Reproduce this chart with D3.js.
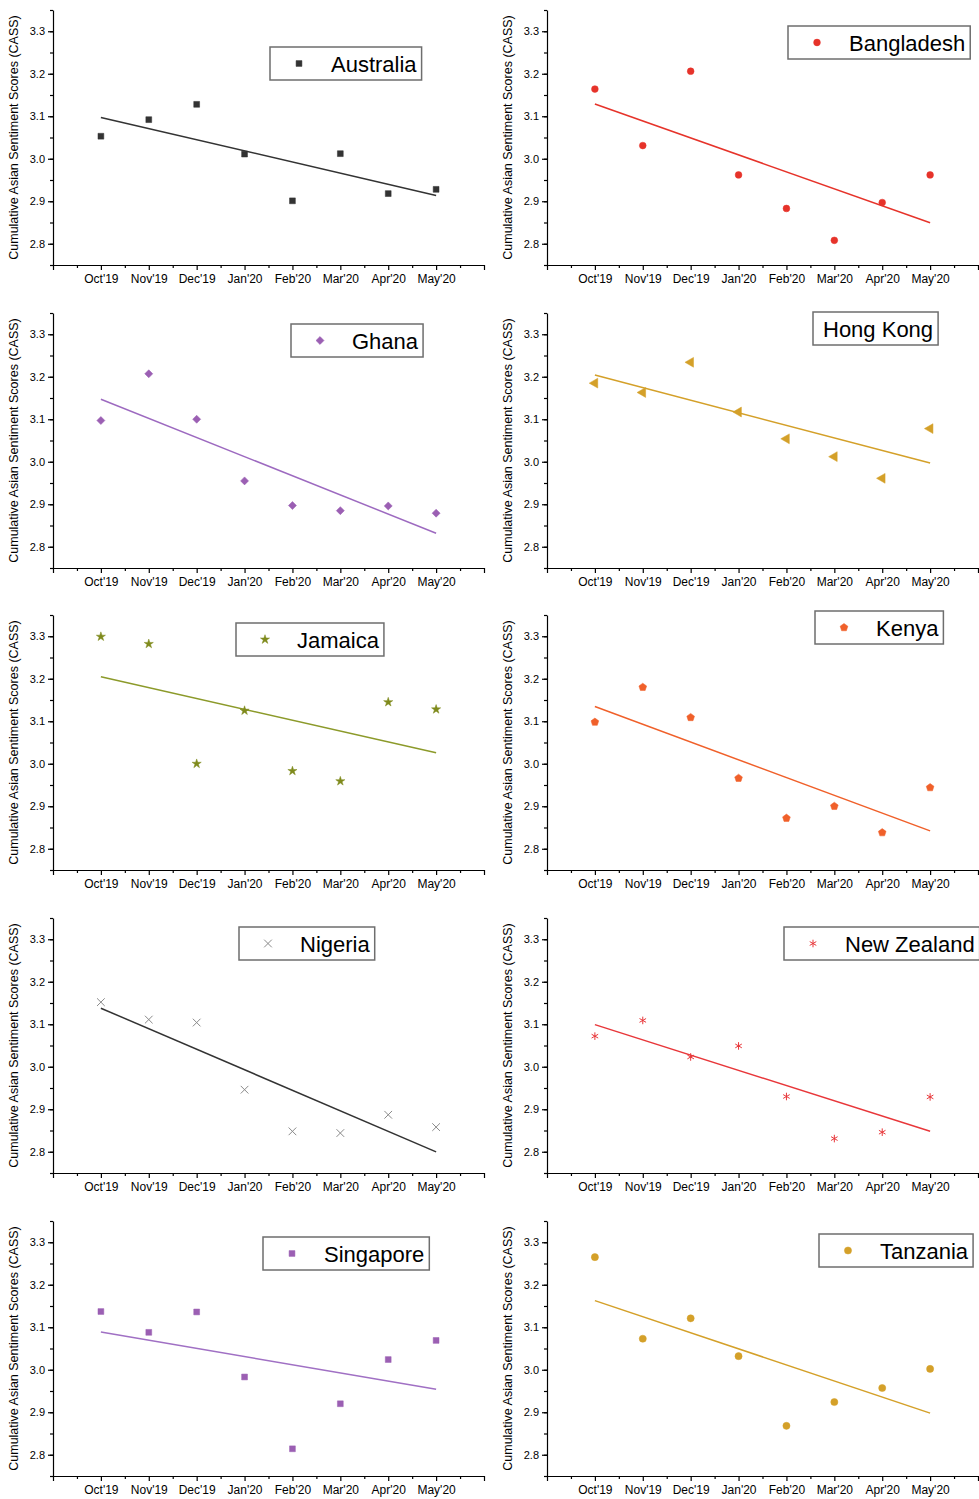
<!DOCTYPE html>
<html>
<head>
<meta charset="utf-8">
<script src="https://cdn.jsdelivr.net/npm/d3@7"></script>
<style>
  body { margin: 0; background: #fff; }
  svg { display: block; font-family: Arial, "Liberation Sans", sans-serif; }
  .axis path, .axis line { stroke: #000; stroke-width: 1.2; }
  .axis text { fill: #000; }
</style>
</head>
<body>
<div id="chart"></div>
<script>
// Monate (x-Achse)
const months = ["Oct'19", "Nov'19", "Dec'19", "Jan'20", "Feb'20", "Mar'20", "Apr'20", "May'20"];
const yTicks = [2.8, 2.9, 3.0, 3.1, 3.2, 3.3];

const countries = ["Australia", "Bangladesh", "Ghana", "Hong Kong", "Jamaica",
                   "Kenya", "Nigeria", "New Zealand", "Singapore", "Tanzania"];

// CASS-Werte pro Land
const australia  = [3.053, 3.092, 3.128, 3.011, 2.901, 3.012, 2.918, 2.928];
const bangladesh = [3.164, 3.031, 3.206, 2.962, 2.883, 2.808, 2.897, 2.962];
const ghana      = [3.097, 3.207, 3.100, 2.955, 2.897, 2.885, 2.896, 2.879];
const hongKong   = [3.185, 3.163, 3.234, 3.117, 3.054, 3.012, 2.961, 3.078];
const jamaica    = [3.299, 3.282, 3.000, 3.125, 2.983, 2.959, 3.145, 3.128];
const kenya      = [3.098, 3.180, 3.109, 2.966, 2.872, 2.900, 2.838, 2.944];
const nigeria    = [3.152, 3.111, 3.104, 2.946, 2.848, 2.844, 2.887, 2.858];
const newZealand = [3.072, 3.109, 3.023, 3.049, 2.930, 2.831, 2.846, 2.929];
const singapore  = [3.137, 3.088, 3.136, 2.983, 2.814, 2.920, 3.024, 3.069];
const tanzania   = [3.265, 3.073, 3.121, 3.032, 2.868, 2.924, 2.957, 3.002];

const seriesValues = [australia, bangladesh, ghana, hongKong, jamaica,
                      kenya, nigeria, newZealand, singapore, tanzania];

// Fünfeck als eigenes Symbol
const symbolPentagon = {
  draw(ctx, size) {
    const r = Math.sqrt(size) * 0.64;
    for (let i = 0; i < 5; i++) {
      const a = -Math.PI / 2 + i * 2 * Math.PI / 5;
      if (i === 0) ctx.moveTo(r * Math.cos(a), r * Math.sin(a));
      else ctx.lineTo(r * Math.cos(a), r * Math.sin(a));
    }
    ctx.closePath();
  }
};
const symTimes = d3.symbolTimes || { draw(ctx, size) {
  const r = Math.sqrt(size) * 0.5;
  ctx.moveTo(-r, -r); ctx.lineTo(r, r); ctx.moveTo(-r, r); ctx.lineTo(r, -r);
}};
const symAsterisk = d3.symbolAsterisk || { draw(ctx, size) {
  const r = Math.sqrt(size) * 0.6, t = r / 2, u = t * Math.sqrt(3);
  ctx.moveTo(0, r); ctx.lineTo(0, -r);
  ctx.moveTo(-u, -t); ctx.lineTo(u, t);
  ctx.moveTo(-u, t); ctx.lineTo(u, -t);
}};

// Darstellung pro Land (Raute = gedrehtes Quadrat)
const styles = [
  { color: "#333333", line: "#333333", sym: d3.symbolSquare, size: 34, fill: true },
  { color: "#e6332a", line: "#e6332a", sym: d3.symbolCircle, size: 36, fill: true },
  { color: "#9b5fb3", line: "#9d6ac0", sym: d3.symbolSquare, size: 32, fill: true, rot: 45 },
  { color: "#d4a029", line: "#d4a029", sym: d3.symbolTriangle, size: 42, fill: true, rot: -90 },
  { color: "#7f8a1c", line: "#8c9a2a", sym: d3.symbolStar, size: 26, fill: true },
  { color: "#f0602a", line: "#f0602a", sym: symbolPentagon, size: 40, fill: true },
  { color: "#8a8a8a", line: "#333333", sym: symTimes, size: 40, fill: false },
  { color: "#e8373a", line: "#e8373a", sym: symAsterisk, size: 40, fill: false },
  { color: "#9b5fb3", line: "#a070c4", sym: d3.symbolSquare, size: 34, fill: true },
  { color: "#d4a029", line: "#d4a029", sym: d3.symbolCircle, size: 40, fill: true }
];

// Legendenposition relativ zum Panel (links, oben)
const legendPos = [[217, 37], [241, 16], [238, 11], [266, -1], [183, 8],
                   [268, -4], [186, 9], [237, 9], [210, 16], [272, 13]];

const W = 979, H = 1499;
const colX = [53, 547];
const rowY = [10, 313, 615, 918, 1221];
const pw = 431, ph = 255;

const svg = d3.select("#chart").append("svg")
  .attr("width", W).attr("height", H);

const x = d3.scaleLinear().domain([-1, 8]).range([0, pw]);
const y = d3.scaleLinear().domain([2.75, 3.35]).range([ph, 0]);

// lineare Regression
function fit(vals) {
  const n = vals.length;
  const mx = d3.mean(vals, (v, i) => i), my = d3.mean(vals);
  let sxy = 0, sxx = 0;
  vals.forEach((v, i) => { sxy += (i - mx) * (v - my); sxx += (i - mx) * (i - mx); });
  const b = sxy / sxx, a = my - b * mx;
  return [[0, a], [n - 1, a + b * (n - 1)]];
}

countries.forEach((name, k) => {
  const vals = seriesValues[k];
  const st = styles[k];
  const g = svg.append("g")
    .attr("transform", `translate(${colX[k % 2]},${rowY[Math.floor(k / 2)]})`);

  // y-Achse
  const yMinor = d3.range(2.75, 3.351, 0.05).map(v => +v.toFixed(2));
  g.append("g").attr("class", "axis")
    .call(d3.axisLeft(y).tickValues(yMinor).tickSize(3).tickFormat(""))
    .call(s => s.select(".domain").remove());
  g.append("g").attr("class", "axis")
    .call(d3.axisLeft(y).tickValues(yTicks).tickSize(5).tickSizeOuter(0).tickPadding(3)
      .tickFormat(d3.format(".1f")))
    .call(s => s.selectAll("text").style("font-size", "11px"));

  // x-Achse
  const xMinor = d3.range(-0.5, 8, 1);
  g.append("g").attr("class", "axis").attr("transform", `translate(0,${ph})`)
    .call(d3.axisBottom(x).tickValues(xMinor).tickSize(3).tickFormat(""))
    .call(s => s.select(".domain").remove());
  g.append("g").attr("class", "axis").attr("transform", `translate(0,${ph})`)
    .call(d3.axisBottom(x).tickValues(d3.range(-1, 9)).tickSize(5).tickSizeOuter(0).tickPadding(4)
      .tickFormat(i => months[i] || ""))
    .call(s => s.selectAll("text").style("font-size", "12px"));

  // y-Titel
  g.append("text")
    .attr("transform", `translate(-35,${ph / 2}) rotate(-90)`)
    .attr("text-anchor", "middle")
    .style("font-size", "12.5px")
    .text("Cumulative Asian Sentiment Scores (CASS)");

  // Regressionsgerade
  g.append("path")
    .datum(fit(vals))
    .attr("fill", "none")
    .attr("stroke", st.line)
    .attr("stroke-width", 1.5)
    .attr("d", d3.line().x(d => x(d[0])).y(d => y(d[1])));

  // Punkte
  const sym = d3.symbol().type(st.sym).size(st.size);
  g.selectAll(".pt").data(vals).enter().append("path")
    .attr("class", "pt")
    .attr("transform", (d, i) => `translate(${x(i)},${y(d)})` + (st.rot ? ` rotate(${st.rot})` : ""))
    .attr("d", sym)
    .attr("fill", st.fill ? st.color : "none")
    .attr("stroke", st.color)
    .attr("stroke-width", st.fill ? 0.5 : 1);

  // Legende
  const [lx, ly] = legendPos[k];
  const lg = g.append("g").attr("transform", `translate(${lx},${ly})`);
  const box = lg.append("rect")
    .attr("height", 33)
    .attr("fill", "#fff")
    .attr("stroke", "#6e6e6e")
    .attr("stroke-width", 1.5);
  const noMarker = name === "Hong Kong";
  const tx = noMarker ? 10 : 61;
  const t = lg.append("text")
    .attr("x", tx).attr("y", 24.5)
    .style("font-size", "22px")
    .attr("fill", "#000")
    .text(name);
  box.attr("width", tx + t.node().getComputedTextLength() + 5);
  if (!noMarker) {
    lg.append("path")
      .attr("transform", `translate(29,16.5)` + (st.rot ? ` rotate(${st.rot})` : ""))
      .attr("d", sym)
      .attr("fill", st.fill ? st.color : "none")
      .attr("stroke", st.color)
      .attr("stroke-width", st.fill ? 0.5 : 1);
  }
});
</script>
</body>
</html>
